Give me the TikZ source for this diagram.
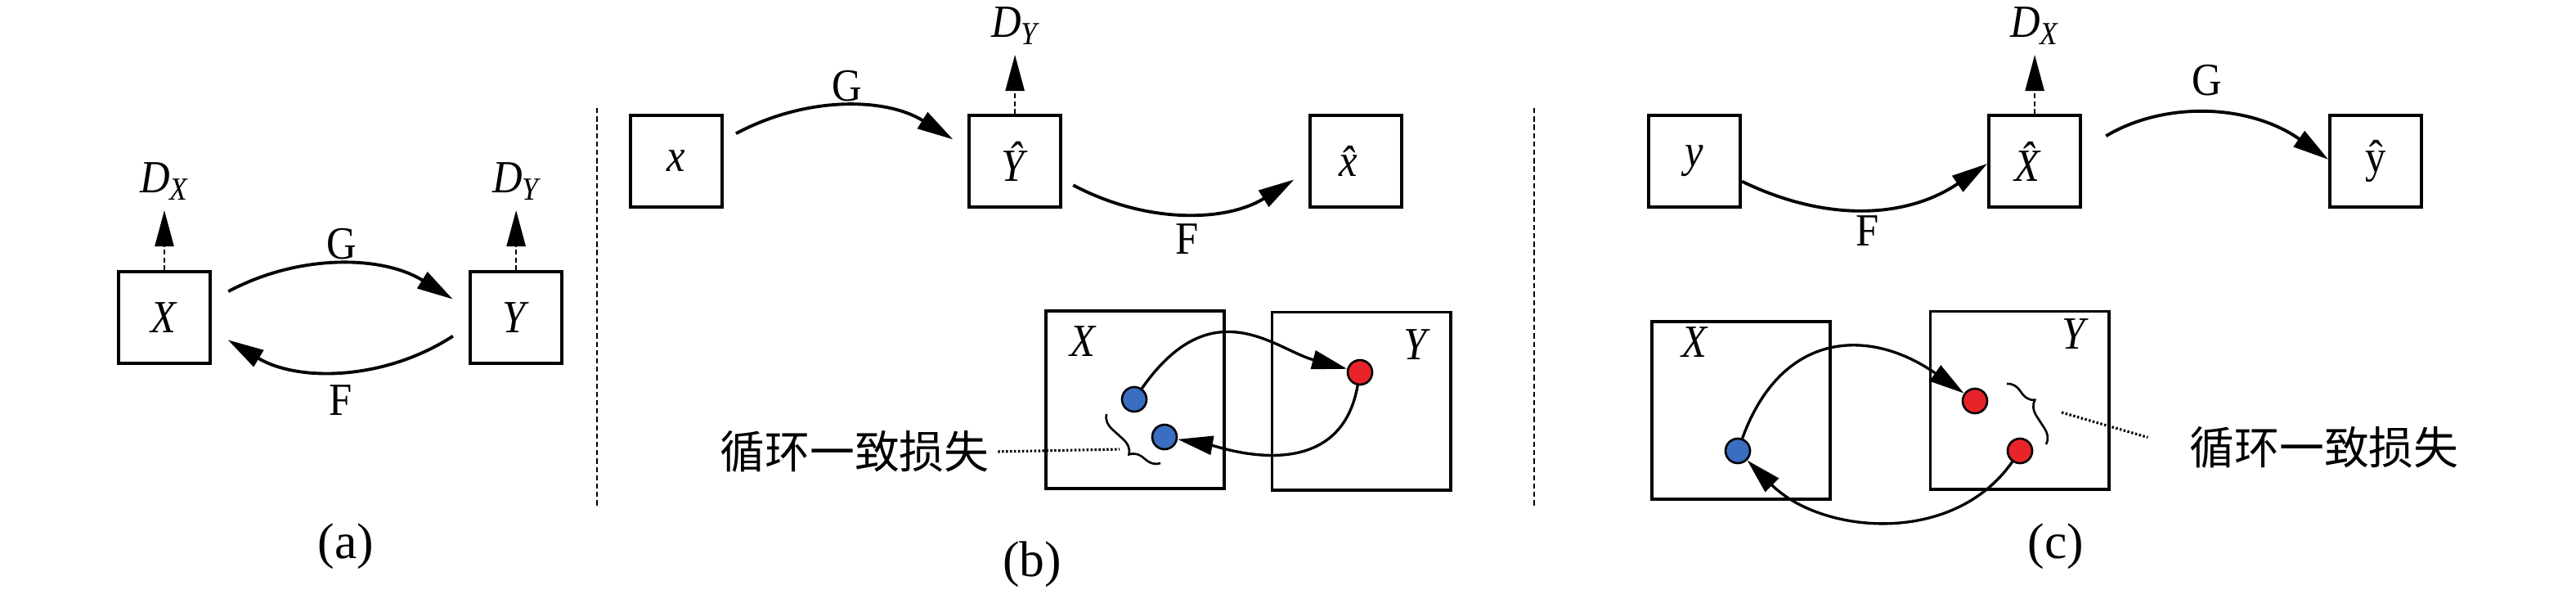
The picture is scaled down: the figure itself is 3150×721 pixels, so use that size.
\documentclass[tikz,border=0pt]{standalone}
\usepackage{fontspec}
\setmainfont{Liberation Serif}[FakeStretch=0.9]
\newfontfamily\capfont{Liberation Serif}
\newfontfamily\cjkfont{Noto Sans CJK SC}
\usetikzlibrary{positioning, arrows.meta, decorations.pathreplacing}
\definecolor{ptblue}{RGB}{58,110,192}
\definecolor{ptred}{RGB}{232,36,42}

\begin{document}
\begin{tikzpicture}[x=0.01cm, y=0.01cm, node distance=3cm,
	every node/.style={font=\fontsize{16}{19}\selectfont},
	blk/.style={draw, line width=1.1pt, minimum width=1.12cm, minimum height=1.12cm, inner sep=0pt},
	bigblk/.style={draw, line width=1.1pt, minimum width=2.18cm, minimum height=2.17cm, inner sep=0pt},
	bdot/.style={circle, draw, line width=0.75pt, fill=ptblue, minimum size=0.3cm, inner sep=0pt},
	rdot/.style={bdot, fill=ptred},
	gen/.style={line width=1.1pt, -{Triangle[length=4.4mm, width=2.3mm]}},
	cyc/.style={line width=0.95pt, -{Triangle[length=4.3mm, width=2.3mm]}},
	disc/.style={line width=0.7pt, dash pattern=on 1.6pt off 1.1pt, -{Triangle[length=4.4mm, width=2.3mm]}},
	vsep/.style={line width=0.6pt, dash pattern=on 1.8pt off 1.1pt},
	loss/.style={line width=0.9pt, dash pattern=on 0.7pt off 0.7pt},
	brc/.style={line width=0.75pt, decorate, decoration={brace, amplitude=1.8mm, aspect=0.4}},
	lbl/.style={inner sep=2pt},
	sub/.style={font=\capfont\fontsize{17.5}{20}\selectfont},
	cjk/.style={inner sep=2pt, font=\cjkfont\fontsize{15.6}{18}\selectfont}]
	\useasboundingbox (0,0) rectangle (3150,-721);
	% (a)
	\node[blk] (xa) at (201,-388) {\textit{X}};
	\node[blk, right=3.14cm of xa] (ya) {\textit{Y}};
	\node[lbl, inner sep=0.12cm, above=0.73cm of xa] (dxa) {\textit{D\textsubscript{X}}};
	\node[lbl, inner sep=0.12cm, above=0.73cm of ya] (dya) {\textit{D\textsubscript{Y}}};
	\draw[disc] (xa) -- (dxa);
	\draw[disc] (ya) -- (dya);
	\draw[gen, shorten <=0.23cm, shorten >=0.23cm] (xa.20) to[bend left=30] node[lbl, above] {G} (ya.170);
	\draw[gen, shorten <=0.23cm, shorten >=0.23cm] (ya.190) to[bend left=32] node[lbl, below=1.2mm] {F} (xa.345);
	\node[sub] (lbla) at (423,-668) {(a)};
	% (b)
	\draw[vsep] (730,-132) -- (730,-620);
	\node[blk] (xb) at (827,-197) {\textit{x}};
	\node[blk, right=2.98cm of xb] (yb) {\textit{\^Y}};
	\node[blk, right=3.01cm of yb] (xhb) {\textit{\^x}};
	\node[lbl, inner sep=0.12cm, above=0.72cm of yb] (dyb) {\textit{D\textsubscript{Y}}};
	\draw[disc] (yb) -- (dyb);
	\draw[gen, shorten <=0.17cm, shorten >=0.21cm] (xb.24) to[bend left=30] node[lbl, above] {G} (yb.165);
	\draw[gen, shorten <=0.15cm, shorten >=0.21cm] (yb.-21) to[bend right=30] node[lbl, below=0.7mm] {F} (xhb.191);
	\node[bigblk] (Xb) at (1388,-488.5) {};
	\node[bigblk] (Yb) at (1664.5,-490) {};
	\node (lXb) at (1325,-417) {\textit{X}};
	\node (lYb) at (1733,-421) {\textit{Y}};
	\node[bdot] (b1) at (1387,-488) {};
	\node[bdot] (b2) at (1424,-534) {};
	\node[rdot] (r1) at (1663,-455) {};
	\draw[cyc] (b1) to[out=55, in=165, out distance=1.5cm, in distance=0.9cm] (r1);
	\draw[cyc] (r1) to[out=-100, in=-10, out distance=1.3cm, in distance=0.5cm] (b2);
	\draw[brc] (1419,-566) -- (1353,-506);
	\coordinate (bt) at (1369,-549);
	\node[cjk] (lossb) at (1045,-552) {循环一致损失};
	\draw[loss, shorten <=0.03cm] (lossb.east) -- (bt);
	\node[sub] (lblb) at (1262,-690) {(b)};
	% (c)
	\draw[vsep] (1876,-132) -- (1876,-620);
	\node[blk] (yc) at (2072,-197) {\textit{y}};
	\node[blk, right=3cm of yc] (xhc) {\textit{\^X}};
	\node[blk, right=3.01cm of xhc] (yhc) {\^y};
	\node[lbl, inner sep=0.12cm, above=0.72cm of xhc] (dxc) {\textit{D\textsubscript{X}}};
	\draw[disc] (xhc) -- (dxc);
	\draw[gen] (yc.-23) to[bend right=30] node[lbl, below] {F} (xhc.183);
	\draw[gen, shorten <=0.34cm] (xhc.13) to[bend left=33] node[lbl, above=1.5mm] {G} (yhc.178);
	\node[bigblk] (Xc) at (2129,-501.5) {};
	\node[bigblk] (Yc) at (2469.5,-489) {};
	\node (lXc) at (2073,-418) {\textit{X}};
	\node (lYc) at (2538,-408) {\textit{Y}};
	\node[bdot] (bc) at (2125,-551) {};
	\node[rdot] (rc1) at (2415,-490) {};
	\node[rdot] (rc2) at (2470,-551) {};
	\draw[cyc] (bc) to[out=70, in=145, looseness=1.3] (rc1);
	\draw[cyc] (rc2) to[out=-125, in=-45] (bc);
	\draw[brc] (2454,-469) -- (2502,-543);
	\coordinate (ct) at (2521,-504);
	\node[cjk] (lossc) at (2842,-547) {循环一致损失};
	\draw[loss, shorten >=0.45cm] (ct) -- (lossc.west);
	\node[sub] (lblc) at (2514,-668) {(c)};
\end{tikzpicture}
\end{document}
